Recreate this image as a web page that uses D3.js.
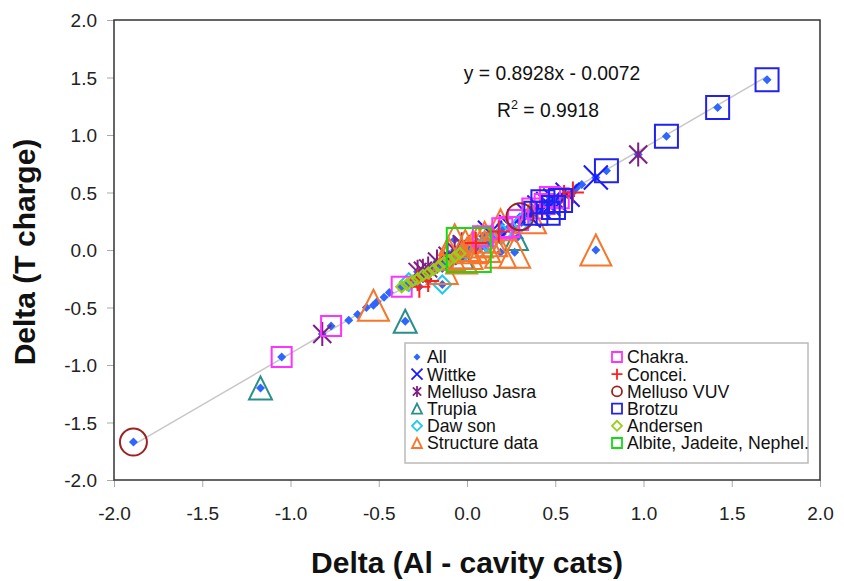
<!DOCTYPE html>
<html>
<head>
<meta charset="utf-8">
<script src="https://cdn.jsdelivr.net/npm/d3@7"></script>
<style>
body { margin: 0; background: #fff; }
text { font-family: "Liberation Sans", Arial, sans-serif; }
</style>
</head>
<body>
<svg width="844" height="581"></svg>
<script>
// values, [x, y]
const wittke = [[0.73, 0.63], [0.57, 0.48], [0.50, 0.43], [0.41, 0.37], [0.35, 0.30], [0.13, 0.15], [0.25, 0.20], [0.46, 0.40]];
const mellusoJasra = [[0.97, 0.83], [-0.82, -0.73], [-0.28, -0.19], [-0.22, -0.16], [-0.17, -0.10], [-0.11, -0.05], [-0.07, 0.00], [-0.03, 0.05], [-0.25, -0.18]];
const trupia = [[-1.17, -1.20], [-0.35, -0.62], [0.28, 0.10], [-0.03, -0.06]];
const dawson = [[-0.14, -0.30], [0.31, 0.24], [-0.33, -0.28], [0.07, 0.01], [0.12, 0.06], [-0.03, -0.04], [0.20, 0.14]];
const structureData = [[-0.53, -0.48], [0.73, 0.00], [0.27, -0.02], [0.36, 0.28], [0.19, 0.22], [0.03, 0.02], [-0.03, -0.07], [-0.07, 0.09], [0.10, 0.03], [0.19, -0.02], [-0.14, -0.16], [0.10, 0.11], [0.06, 0.07], [-0.01, 0.04], [0.14, 0.08], [-0.10, -0.04], [0.00, -0.03]];
const chakra = [[-1.05, -0.93], [-0.77, -0.66], [-0.37, -0.32], [0.24, 0.20], [0.20, 0.19], [0.37, 0.36], [0.47, 0.46], [0.52, 0.45], [0.44, 0.40], [0.29, 0.26], [0.09, 0.12]];
const concei = [[0.60, 0.50], [0.55, 0.47], [-0.28, -0.26], [-0.22, -0.27], [-0.27, -0.32], [0.05, 0.06], [0.18, 0.16]];
const mellusoVUV = [[-1.89, -1.67], [0.30, 0.29]];
const brotzu = [[1.70, 1.48], [1.42, 1.24], [1.13, 0.99], [0.79, 0.69], [0.43, 0.42], [0.49, 0.37], [0.46, 0.32], [0.39, 0.32], [0.53, 0.43]];
const andersen = [[-0.37, -0.32], [-0.34, -0.30], [-0.31, -0.27], [-0.28, -0.25], [-0.25, -0.22], [-0.22, -0.20], [-0.19, -0.17], [-0.16, -0.14], [-0.13, -0.11], [-0.10, -0.09], [-0.07, -0.06], [-0.04, -0.03]];
const albite = [[0.01, 0.00]];
// points that only show up as "All" diamonds
const allOnly = [[-0.67, -0.61], [-0.62, -0.56], [-0.57, -0.50], [-0.51, -0.45], [-0.47, -0.41], [-0.44, -0.37], [-0.30, -0.27], [0.62, 0.54], [0.65, 0.57], [0.36, 0.33], [0.40, 0.35]];

const slope = 0.8928;
const intercept = -0.0072;
const rSquared = 0.9918;

const xTicks = [-2.0, -1.5, -1.0, -0.5, 0.0, 0.5, 1.0, 1.5, 2.0];
const yTicks = [-2.0, -1.5, -1.0, -0.5, 0.0, 0.5, 1.0, 1.5, 2.0];

const allPoints = [].concat(wittke, mellusoJasra, trupia, dawson, structureData, chakra,
    concei, mellusoVUV, brotzu, andersen, albite, allOnly);

const series = [
    { name: "All", data: allPoints, shape: "diamondFill", color: "#2f66ff", size: 9, col: 0, row: 0 },
    { name: "Wittke", data: wittke, shape: "x", color: "#1a1aff", size: 24, col: 0, row: 1 },
    { name: "Melluso Jasra", data: mellusoJasra, shape: "star", color: "#7f1f86", size: 24, col: 0, row: 2 },
    { name: "Trupia", data: trupia, shape: "triangle", color: "#2a8f8a", size: 23, col: 0, row: 3 },
    { name: "Daw son", data: dawson, shape: "diamond", color: "#1ec8f0", size: 18, col: 0, row: 4 },
    { name: "Structure data", data: structureData, shape: "triangle", color: "#f7762a", size: 31, col: 0, row: 5 },
    { name: "Chakra.", data: chakra, shape: "square", color: "#ff33ff", size: 20, col: 1, row: 0 },
    { name: "Concei.", data: concei, shape: "plus", color: "#ff2020", size: 22, col: 1, row: 1 },
    { name: "Melluso VUV", data: mellusoVUV, shape: "circle", color: "#9b2323", size: 27, col: 1, row: 2 },
    { name: "Brotzu", data: brotzu, shape: "square", color: "#2222ee", size: 23, col: 1, row: 3 },
    { name: "Andersen", data: andersen, shape: "diamond", color: "#9acd1a", size: 11, col: 1, row: 4 },
    { name: "Albite, Jadeite, Nephel.", data: albite, shape: "square", color: "#11dd11", size: 44, col: 1, row: 5 }
];

const svg = d3.select("svg");
const margin = { top: 20, right: 24, bottom: 101, left: 114 };
const width = +svg.attr("width") - margin.left - margin.right;
const height = +svg.attr("height") - margin.top - margin.bottom;

const x = d3.scaleLinear().domain([-2, 2]).range([0, width]);
const y = d3.scaleLinear().domain([-2, 2]).range([height, 0]);

const g = svg.append("g").attr("transform", `translate(${margin.left},${margin.top})`);

function shapePath(shape, s) {
    const h = s / 2;
    switch (shape) {
        case "diamond":
        case "diamondFill":
            return `M0,${-h}L${h},0L0,${h}L${-h},0Z`;
        case "square":
            return `M${-h},${-h}H${h}V${h}H${-h}Z`;
        case "triangle":
            return `M0,${-h}L${h},${h}L${-h},${h}Z`;
        case "x":
            return `M${-h},${-h}L${h},${h}M${h},${-h}L${-h},${h}`;
        case "plus":
            return `M${-h},0H${h}M0,${-h}V${h}`;
        case "star": {
            const k = h * 0.75;
            return `M${-k},${-k}L${k},${k}M${k},${-k}L${-k},${k}M0,${-h}V${h}`;
        }
        case "circle":
            return `M${h},0A${h},${h} 0 1,1 ${-h},0A${h},${h} 0 1,1 ${h},0Z`;
    }
}

// plain hyphen for negatives, like the original
const fmt = d => d3.format(".1f")(d).replace("\u2212", "-");

// axes, ticks outside the frame
const xAxis = g.append("g")
    .attr("transform", `translate(0,${height})`)
    .call(d3.axisBottom(x).tickValues(xTicks).tickFormat(fmt).tickSize(7).tickPadding(20));
const yAxis = g.append("g")
    .call(d3.axisLeft(y).tickValues(yTicks).tickFormat(fmt).tickSize(7).tickPadding(10));
[xAxis, yAxis].forEach(a => {
    a.select(".domain").remove();
    a.selectAll(".tick line").attr("stroke", "#aaa");
    a.selectAll(".tick text")
        .attr("font-size", 19)
        .attr("fill", "#222")
        .style("font-family", "'Liberation Sans', Arial, sans-serif");
});
yAxis.selectAll(".tick text").attr("dy", "0.36em");

g.append("rect")
    .attr("width", width)
    .attr("height", height)
    .attr("fill", "none")
    .attr("stroke", "#333")
    .attr("stroke-width", 1.5);

// trendline
const xs = allPoints.map(d => d[0]);
const x0 = d3.min(xs), x1 = d3.max(xs);
g.append("line")
    .attr("x1", x(x0)).attr("y1", y(slope * x0 + intercept))
    .attr("x2", x(x1)).attr("y2", y(slope * x1 + intercept))
    .attr("stroke", "#c8c8c8")
    .attr("stroke-width", 1.5);

// series
series.forEach(s => {
    g.append("g")
        .attr("class", "series")
        .selectAll("path")
        .data(s.data)
        .join("path")
        .attr("transform", d => `translate(${x(d[0])},${y(d[1])})`)
        .attr("d", shapePath(s.shape, s.size))
        .attr("fill", s.shape === "diamondFill" ? s.color : "none")
        .attr("stroke", s.shape === "diamondFill" ? "none" : s.color)
        .attr("stroke-width", 2);
});

// equation
g.append("text")
    .attr("x", 552 - margin.left)
    .attr("y", y(1.48))
    .attr("text-anchor", "middle")
    .attr("font-size", 19.3)
    .attr("fill", "#111")
    .text(`y = ${slope}x - ${Math.abs(intercept).toFixed(4)}`);
const r2 = g.append("text")
    .attr("x", 548 - margin.left)
    .attr("y", y(1.16))
    .attr("text-anchor", "middle")
    .attr("font-size", 19.3)
    .attr("fill", "#111");
r2.append("tspan").text("R");
r2.append("tspan").attr("font-size", 12.5).attr("dy", -8).text("2");
r2.append("tspan").attr("dy", 8).text(` = ${rSquared}`);

// legend
const legend = g.append("g").attr("transform", `translate(${405 - margin.left},${343 - margin.top})`);
legend.append("rect")
    .attr("width", 403)
    .attr("height", 120)
    .attr("fill", "#fff")
    .attr("stroke", "#bbb")
    .attr("stroke-width", 1.5);
const item = legend.selectAll("g.item")
    .data(series)
    .join("g")
    .attr("class", "item")
    .attr("transform", d => `translate(${d.col === 0 ? 12 : 212},${14 + d.row * 17.2})`);
item.append("path")
    .attr("d", d => shapePath(d.shape, d.shape === "diamondFill" ? 7 : (d.shape === "x" || d.shape === "star" || d.shape === "plus" ? 11 : 10)))
    .attr("fill", d => d.shape === "diamondFill" ? d.color : "none")
    .attr("stroke", d => d.shape === "diamondFill" ? "none" : d.color)
    .attr("stroke-width", 1.8);
item.append("text")
    .attr("x", 10)
    .attr("dy", "0.36em")
    .attr("font-size", 17.7)
    .attr("fill", "#111")
    .text(d => d.name);

// axis titles
svg.append("text")
    .attr("x", margin.left + width / 2)
    .attr("y", 573)
    .attr("text-anchor", "middle")
    .attr("font-size", 30)
    .attr("font-weight", "bold")
    .attr("fill", "#111")
    .text("Delta (Al - cavity cats)");
svg.append("text")
    .attr("transform", `translate(35,${margin.top + height / 2 + 2}) rotate(-90)`)
    .attr("text-anchor", "middle")
    .attr("font-size", 30)
    .attr("font-weight", "bold")
    .attr("fill", "#111")
    .text("Delta (T charge)");
</script>
</body>
</html>
